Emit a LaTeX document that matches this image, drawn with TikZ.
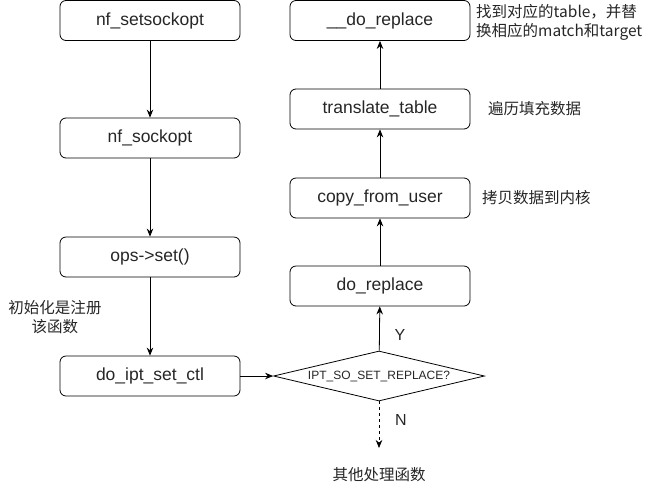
\documentclass[tikz,border=0pt]{standalone}
\usepackage{fontspec}
\setmainfont{Liberation Sans}
\newfontfamily\cjk{Noto Sans CJK SC}
\usetikzlibrary{shapes.geometric,arrows.meta}
\begin{document}
\begin{tikzpicture}[x=1pt,y=-1pt,
  fbox/.style={draw, rounded corners=6pt, minimum width=180pt, minimum height=40pt, inner sep=0pt,
    font=\fontsize{17.5}{20}\selectfont, line width=0.8pt, text=black!85},
  arr/.style={-{Stealth[length=8pt,width=6.5pt]}, line width=0.8pt},
  note/.style={font=\cjk\fontsize{15.5}{19}\selectfont, inner sep=0pt, text=black!85},
  yn/.style={font=\fontsize{16}{18}\selectfont, inner sep=0pt, text=black!85},
]
\useasboundingbox (0,0) rectangle (650,491);
% left column
\node[fbox] (a) at (150,20.5) {nf\_setsockopt};
\node[fbox] (b) at (150,138) {nf\_sockopt};
\node[fbox] (c) at (150,257) {ops->set()};
\node[fbox] (d) at (150,376) {do\_ipt\_set\_ctl};
% right column
\node[fbox] (e) at (380,20.5) {\_\_do\_replace};
\node[fbox] (f) at (380,109) {translate\_table};
\node[fbox] (g) at (380,198) {copy\_from\_user};
\node[fbox] (h) at (380,286) {do\_replace};
% decision
\node[draw, diamond, aspect=4.2, inner sep=0pt, minimum width=211pt, minimum height=50pt,
  line width=0.8pt, font=\fontsize{12}{14}\selectfont, text=black!85] (q) at (379,376) {IPT\_SO\_SET\_REPLACE?};
\coordinate (qend) at (379,448);
% connectors
\draw[arr] (a) -- (b);
\draw[arr] (b) -- (c);
\draw[arr] (c) -- (d);
\draw[arr] (d) -- (q);
\draw[arr] (q) -- (h);
\draw[arr] (h) -- (g);
\draw[arr] (g) -- (f);
\draw[arr] (f) -- (e);
\draw[arr, dash pattern=on 3pt off 3pt] (q.south) -- (qend);
% labels
\node[yn] (ly) at (400,335) {Y};
\node[yn] (ln) at (401,420) {N};
\node[note] (other) at (379,475) {其他处理函数};
\node[note, align=center] (linit) at (55,317) {初始化是注册\\该函数};
\node[note, align=left, anchor=west] (ldo) at (476,22) {找到对应的table，并替\\换相应的match和target};
\node[note, anchor=west] (ltr) at (488,109) {遍历填充数据};
\node[note, anchor=west] (lcp) at (482,198) {拷贝数据到内核};
\end{tikzpicture}
\end{document}
